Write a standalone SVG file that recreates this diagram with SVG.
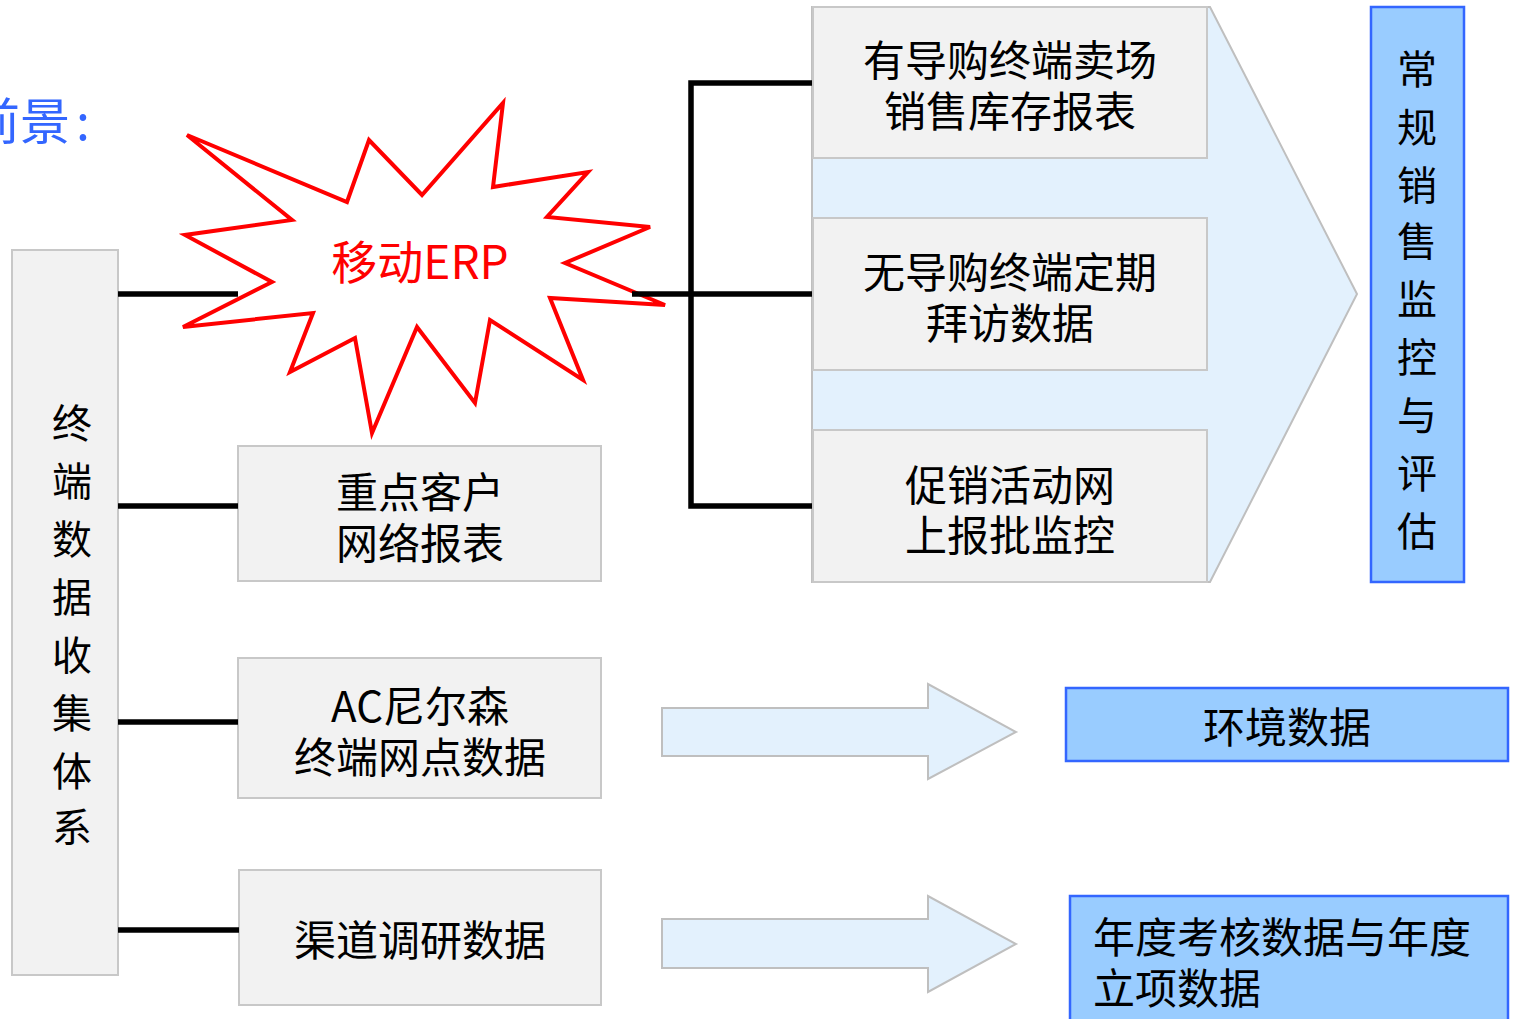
<svg xmlns="http://www.w3.org/2000/svg" width="1514" height="1019" viewBox="0 0 1514 1019">
<style>
text{font-family:"Noto Sans CJK SC","Noto Sans",sans-serif;font-size:42px;fill:#000;}
.gbox{fill:#f2f2f2;stroke:#c8c8c8;stroke-width:2;}
.bbox{fill:#99ccff;stroke:#3366ff;stroke-width:2.5;}
.arr{fill:#e3f1fd;stroke:#bfbfbf;stroke-width:2;}
.ln{stroke:#000;stroke-width:5.5;fill:none;}
.c{text-anchor:middle;}
.v{font-size:40px;text-anchor:middle;}
</style>
<rect width="1514" height="1019" fill="#fff"/>
<text x="-30" y="140" style="font-size:50px;fill:#3366ff">前景<tspan dx="6">:</tspan></text>

<g id="chevron"><polygon class="arr" points="812,7 1210,7 1357,294 1210,582 812,582"/></g>
<g id="arrow1"><polygon class="arr" points="662,708 928,708 928,684 1016,732 928,779 928,756 662,756"/></g>
<g id="arrow2"><polygon class="arr" points="662,919 928,919 928,896 1016,944 928,992 928,968 662,968"/></g>

<g id="terminal">
<rect class="gbox" x="12" y="250" width="106" height="725"/>
<text class="v" x="72"><tspan x="72" y="438">终</tspan><tspan x="72" y="496">端</tspan><tspan x="72" y="554">数</tspan><tspan x="72" y="612">据</tspan><tspan x="72" y="670">收</tspan><tspan x="72" y="728">集</tspan><tspan x="72" y="786">体</tspan><tspan x="72" y="842">系</tspan></text>
</g>

<g id="keyaccount">
<rect class="gbox" x="238" y="446" width="363" height="135"/>
<text class="c" x="420" y="508">重点客户</text>
<text class="c" x="420" y="559">网络报表</text>
</g>
<g id="acnielsen">
<rect class="gbox" x="238" y="658" width="363" height="140"/>
<text class="c" x="420" y="722">AC尼尔森</text>
<text class="c" x="420" y="773">终端网点数据</text>
</g>
<g id="channel">
<rect class="gbox" x="239" y="870" width="362" height="135"/>
<text class="c" x="420" y="956">渠道调研数据</text>
</g>

<g id="report1">
<rect class="gbox" x="813" y="7" width="394" height="151"/>
<text class="c" x="1010" y="76">有导购终端卖场</text>
<text class="c" x="1010" y="127">销售库存报表</text>
</g>
<g id="report2">
<rect class="gbox" x="813" y="218" width="394" height="152"/>
<text class="c" x="1010" y="288">无导购终端定期</text>
<text class="c" x="1010" y="339">拜访数据</text>
</g>
<g id="report3">
<rect class="gbox" x="813" y="430" width="394" height="152"/>
<text class="c" x="1010" y="501">促销活动网</text>
<text class="c" x="1010" y="551">上报批监控</text>
</g>

<g id="monitor">
<rect class="bbox" x="1371" y="7" width="93" height="575"/>
<text class="v"><tspan x="1417" y="84">常</tspan><tspan x="1417" y="142">规</tspan><tspan x="1417" y="200">销</tspan><tspan x="1417" y="256">售</tspan><tspan x="1417" y="314">监</tspan><tspan x="1417" y="372">控</tspan><tspan x="1417" y="430">与</tspan><tspan x="1417" y="488">评</tspan><tspan x="1417" y="546">估</tspan></text>
</g>
<g id="env">
<rect class="bbox" x="1066" y="688" width="442" height="73"/>
<text class="c" x="1287" y="743">环境数据</text>
</g>
<g id="annual">
<rect class="bbox" x="1070" y="896" width="438" height="130"/>
<text x="1093" y="953">年度考核数据与年度</text>
<text x="1093" y="1004">立项数据</text>
</g>

<g id="erp">
<polygon points="187,135 292,220 185,235 272,282 183,327 313,313 290,372 355,338 372,433 417,327 475,403 490,320 583,380 550,298 665,305 565,263 650,227 547,217 588,172 493,187 503,103 422,195 369,140 347,202" fill="#fff" stroke="#ff0000" stroke-width="4"/>
<text class="c" x="420" y="279" style="font-size:46px;fill:#ff0000">移动ERP</text>
</g>

<g id="connectors">
<line class="ln" x1="118" y1="294" x2="238" y2="294"/>
<line class="ln" x1="118" y1="506" x2="238" y2="506"/>
<line class="ln" x1="118" y1="722" x2="238" y2="722"/>
<line class="ln" x1="118" y1="930" x2="239" y2="930"/>
<line class="ln" x1="632" y1="294" x2="812" y2="294"/>
<polyline class="ln" points="812,83 691,83 691,506 812,506"/>
</g>
</svg>
